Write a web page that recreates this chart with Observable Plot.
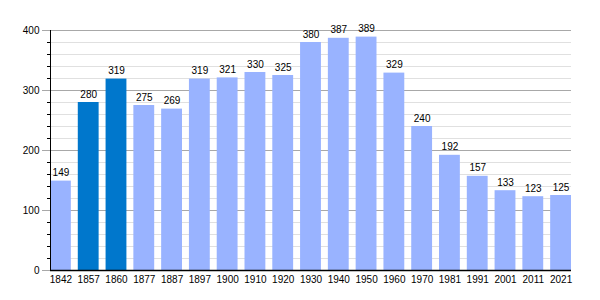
<!DOCTYPE html>
<html><head><meta charset="utf-8">
<script src="https://cdn.jsdelivr.net/npm/d3@7"></script>
<script src="https://cdn.jsdelivr.net/npm/@observablehq/plot@0.6"></script>
<style>body{margin:0;background:#fff}</style>
</head><body><div id="chart"></div>
<script>
const years = ["1842","1857","1860","1877","1887","1897","1900","1910","1920","1930","1940","1950","1960","1970","1981","1991","2001","2011","2021"];
const population = [149,280,319,275,269,319,321,330,325,380,387,389,329,240,192,157,133,123,125];
const highlighted = ["1857","1860"];
const majorTicks = [0,100,200,300,400];
const minorTicks = d3.range(0,401,20);

const data = years.map((y,i)=>({year:y, pop:population[i], hi: highlighted.includes(y)}));

const chart = Plot.plot({
  width: 600, height: 300,
  marginTop: 30, marginBottom: 30, marginLeft: 50, marginRight: 29,
  style: {fontFamily: "'Liberation Sans', Arial, sans-serif", fontSize: "10px", color: "#000", background: "#fff"},
  x: {type: "band", domain: years, paddingInner: 0.25, paddingOuter: 0, round: false, label: null},
  y: {domain: [0,400], label: null},
  marks: [
    Plot.ruleY(minorTicks.filter(d=>d%100!==0), {stroke: "#e0e0e0", strokeWidth: 1}),
    Plot.ruleY(majorTicks.filter(d=>d>0), {stroke: "#a8a8a8", strokeWidth: 1}),
    Plot.barY(data, {x: "year", y: "pop", fill: d => d.hi ? "#0077cc" : "#99b3ff"}),
    Plot.text(data, {x: "year", y: "pop", text: d => String(d.pop), lineAnchor: "bottom", dy: -5, fill: "#000", fontSize: 10}),
    Plot.axisY({ticks: minorTicks, tickSize: 3, tickFormat: () => "", stroke: "#000"}),
    Plot.axisY({ticks: majorTicks, tickSize: 8, tickPadding: 3, stroke: "#a8a8a8", fill: "#000"}),
    Plot.axisX({tickSize: 0, tickPadding: 5, fill: "#000"}),
    Plot.ruleY([0], {stroke: "#000", strokeWidth: 1.5}),
    Plot.frame({anchor: "left", stroke: "#000"})
  ]
});
document.getElementById("chart").appendChild(chart);
</script>
</body></html>
